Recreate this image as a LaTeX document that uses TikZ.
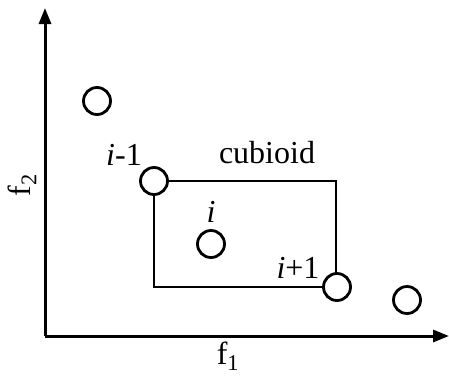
\documentclass[tikz,border=0pt]{standalone}
\usepackage{fontspec}
\setmainfont{Liberation Serif}
\usetikzlibrary{arrows.meta}
\begin{document}
\begin{tikzpicture}[x=1pt,y=-1pt,
  pt/.style={circle,draw,line width=2.8pt,minimum size=27pt,inner sep=0pt},
  axis/.style={line width=3pt,-{Triangle[length=16pt,width=12pt]}},
  box/.style={line width=2.8pt},
  lab/.style={font=\fontsize{32}{32}\selectfont,inner sep=0pt}]
\useasboundingbox (0,0) rectangle (449,381);
\coordinate (O) at (45,336);
\coordinate (Y) at (45,8);
\coordinate (X) at (449,336);
\draw[axis] (O) -- (Y);
\draw[axis] (O) -- (X);
\coordinate (A) at (154,181);
\coordinate (B) at (336,181);
\coordinate (C) at (336,287);
\coordinate (D) at (154,287);
\draw[box] (A) -- (B) -- (C) -- (D) -- cycle;
\node[pt,fill=white] (p1) at (97,101) {};
\node[pt,fill=white] (p2) at (154,181) {};
\node[pt,fill=white] (p3) at (211,244) {};
\node[pt,fill=white] (p4) at (337,287) {};
\node[pt,fill=white] (p5) at (407,300) {};
\node[lab] (cub) at (267,153) {cubioid};
\node[lab] (lim1) at (124,155) {\textit{i}-1};
\node[lab] (li) at (211,212) {\textit{i}};
\node[lab] (lip1) at (298,268) {\textit{i}+1};
\node[lab,rotate=90] (f2) at (22,185) {f\textsubscript{2}};
\node[lab] (f1) at (228,356) {f\textsubscript{1}};
\end{tikzpicture}
\end{document}
